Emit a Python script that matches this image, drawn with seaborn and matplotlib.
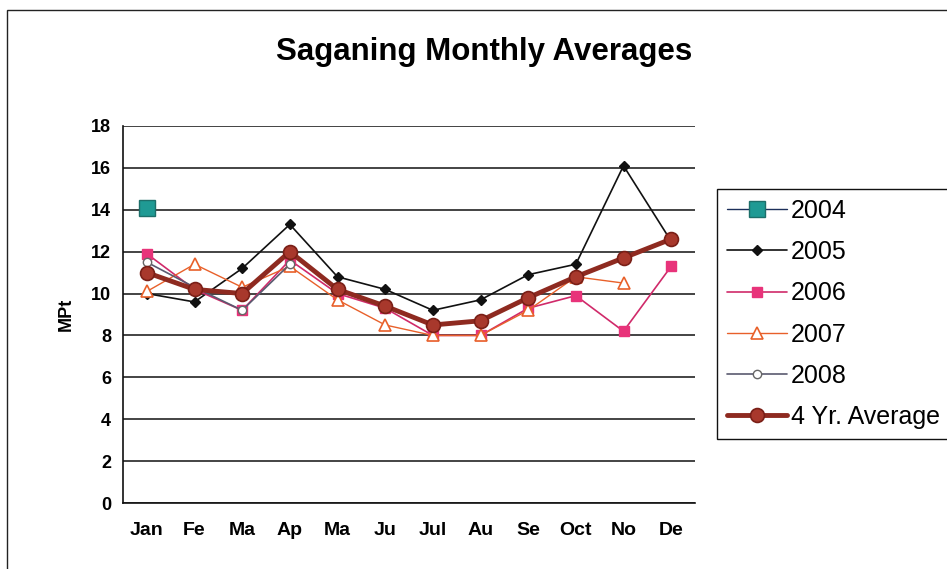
#!/usr/bin/env python3

import numpy as np
import pandas as pd
import matplotlib
matplotlib.use("Agg")
import matplotlib.pyplot as plt
import seaborn as sbs
from matplotlib.patches import Rectangle

months = ["Jan", "Fe", "Ma", "Ap", "Ma", "Ju", "Jul", "Au", "Se", "Oct", "No", "De"]
nan = np.nan

y2004 = [14.1, nan, nan, nan, nan, nan, nan, nan, nan, nan, nan, nan]
y2005 = [10.0, 9.6, 11.2, 13.3, 10.8, 10.2, 9.2, 9.7, 10.9, 11.4, 16.1, 12.5]
y2006 = [11.9, 10.2, 9.2, 11.6, 10.0, 9.3, 8.0, 8.0, 9.3, 9.9, 8.2, 11.3]
y2007 = [10.1, 11.4, 10.3, 11.3, 9.7, 8.5, 8.0, 8.0, 9.2, 10.8, 10.5, nan]
y2008 = [11.5, 10.3, 9.2, 11.4, nan, nan, nan, nan, nan, nan, nan, nan]
y_avg = [11.0, 10.2, 10.0, 12.0, 10.2, 9.4, 8.5, 8.7, 9.8, 10.8, 11.7, 12.6]

series = {
    "2004": y2004,
    "2005": y2005,
    "2006": y2006,
    "2007": y2007,
    "2008": y2008,
    "4 Yr. Average": y_avg,
}

styles = {
    "2004": dict(color="#1c2f5a", lw=1.0, marker="s", ms=11, mfc="#1f9a94", mec="#1d6f6a", mew=1.0),
    "2005": dict(color="#111111", lw=1.2, marker="D", ms=5, mfc="#111111", mec="#111111", mew=1.0),
    "2006": dict(color="#d02a6a", lw=1.2, marker="s", ms=7, mfc="#e8337a", mec="#e8337a", mew=1.0),
    "2007": dict(color="#e8602a", lw=1.0, marker="^", ms=8, mfc="white", mec="#e8602a", mew=1.2),
    "2008": dict(color="#5a5a70", lw=1.2, marker="o", ms=6, mfc="white", mec="#666666", mew=1.0),
    "4 Yr. Average": dict(color="#8e2a20", lw=3.5, marker="o", ms=10, mfc="#a8382c", mec="#7a1f17", mew=1.2),
}

rows = []
for name, vals in series.items():
    for i, v in enumerate(vals):
        rows.append({"series": name, "pos": i, "value": v})
df = pd.DataFrame(rows).dropna()

sbs.set_style("white")
plt.rcParams["font.family"] = ["Liberation Sans", "DejaVu Sans"]
plt.rcParams["text.color"] = "black"
plt.rcParams["axes.labelcolor"] = "black"
plt.rcParams["xtick.color"] = "black"
plt.rcParams["ytick.color"] = "black"

fig = plt.figure(figsize=(9.47, 5.69), dpi=100)
ax = fig.add_axes([123 / 947, 1 - 503 / 569, (695 - 123) / 947, (503 - 126) / 569])

# outer chart border (only top and left visible in the reference)
fig.patches.append(Rectangle((7 / 947, -0.1), 1.2, 1 - 10 / 569 + 0.1,
                             transform=fig.transFigure, fill=False,
                             edgecolor="#222222", lw=1.0))

for name in series:
    st = styles[name]
    sub = df[df["series"] == name]
    sbs.lineplot(data=sub, x="pos", y="value", ax=ax, label=name,
                 color=st["color"], linewidth=st["lw"], marker=st["marker"],
                 markersize=st["ms"], markerfacecolor=st["mfc"],
                 markeredgecolor=st["mec"], markeredgewidth=st["mew"],
                 zorder=5 if name == "4 Yr. Average" else 3)

ax.set_xlim(-0.5, 11.5)
ax.set_ylim(0, 18)
ax.set_yticks(np.arange(0, 19, 2))
ax.set_xticks(range(12))
ax.set_xticklabels(months, fontsize=14, fontweight="bold")
ax.set_xticks(np.arange(-0.5, 12, 1), minor=True)
ax.tick_params(axis="x", which="major", length=0, pad=14)
ax.tick_params(axis="x", which="minor", length=5, width=1, direction="out", color="#333333")
ax.tick_params(axis="y", length=5, width=1, direction="out", color="#222222", labelsize=13)
for lab in ax.get_yticklabels():
    lab.set_fontweight("bold")

ax.yaxis.grid(True, color="#111111", lw=1.1)
ax.set_axisbelow(True)
for side in ["top", "right"]:
    ax.spines[side].set_visible(False)
ax.spines["left"].set_color("#111111")
ax.spines["bottom"].set_color("#111111")
ax.spines["left"].set_linewidth(1.2)
ax.spines["bottom"].set_linewidth(1.2)

ax.set_xlabel("")
ax.set_ylabel("MPt", fontsize=13, fontweight="bold")
ax.yaxis.set_label_coords(-0.084, 0.5)

fig.text(484 / 947, 1 - 52 / 569, "Saganing Monthly Averages",
         ha="center", va="center", fontsize=22.5, fontweight="bold", color="black")

handles, labels = ax.get_legend_handles_labels()
if ax.legend_:
    ax.legend_.remove()
leg = fig.legend(handles, labels, loc="upper left",
                 bbox_to_anchor=(717 / 947, 1 - 189 / 569),
                 fontsize=18, frameon=True, fancybox=False,
                 edgecolor="#111111", framealpha=1.0,
                 labelspacing=0.69, handlelength=2.4, handletextpad=0.15,
                 borderpad=0.4, borderaxespad=0)
leg.get_frame().set_linewidth(1.0)
for t in leg.get_texts():
    t.set_color("black")

fig.savefig("out.png", dpi=100)
